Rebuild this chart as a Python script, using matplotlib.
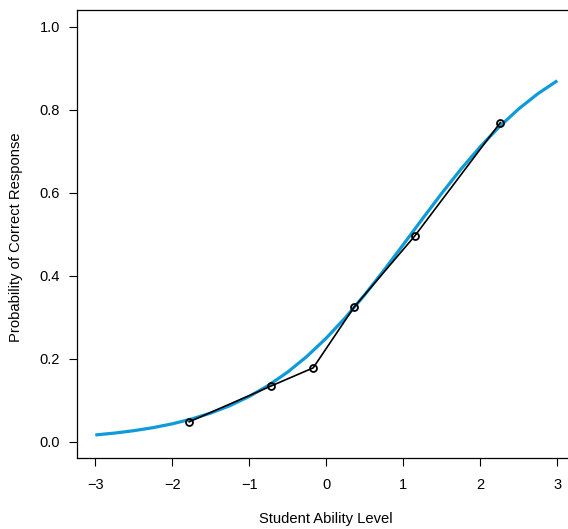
import matplotlib
matplotlib.use("Agg")
import matplotlib.pyplot as plt

plt.rcParams['font.family'] = ['Liberation Sans', 'DejaVu Sans']

# item characteristic curve, read at steps of 0.25 in ability
curve_x = [-3.0, -2.75, -2.5, -2.25, -2.0, -1.75, -1.5, -1.25, -1.0, -0.75, -0.5, -0.25,
           0.0, 0.25, 0.5, 0.75, 1.0, 1.25, 1.5, 1.75, 2.0, 2.25, 2.5, 2.75, 3.0]
curve_p = [0.0163, 0.0208, 0.0266, 0.0339, 0.0431, 0.0547, 0.0691, 0.0870, 0.1091,
           0.1359, 0.1680, 0.2059, 0.2497, 0.2994, 0.3543, 0.4134, 0.4750, 0.5374,
           0.5987, 0.6570, 0.7109, 0.7595, 0.8022, 0.8389, 0.8699]

# observed proportions correct per ability group
group_x = [-1.78, -0.72, -0.17, 0.36, 1.15, 2.26]
group_p = [0.048, 0.134, 0.178, 0.324, 0.496, 0.769]

x_ticks = [-3, -2, -1, 0, 1, 2, 3]
y_ticks = [0.0, 0.2, 0.4, 0.6, 0.8, 1.0]

fig = plt.figure(figsize=(5.68, 5.29), dpi=100)
ax = fig.add_axes([0.1352, 0.1336, 0.8785, 0.8473])

ax.plot(curve_x, curve_p, color='#0f9ad8', linewidth=2.3, solid_capstyle='butt')
ax.plot(group_x, group_p, color='black', linewidth=1.2, marker='o', markersize=5,
        markerfacecolor='none', markeredgewidth=1.3)

ax.set_xlim(-3.24, 3.24)
ax.set_ylim(-0.04, 1.04)
ax.set_xticks(x_ticks)
ax.set_xticklabels(['\u22123', '\u22122', '\u22121', '0', '1', '2', '3'])
ax.set_yticks(y_ticks)
ax.set_yticklabels(['%.1f' % v for v in y_ticks])

ax.tick_params(axis='both', direction='out', length=6, width=0.8, labelsize=10.5)
ax.tick_params(axis='x', pad=8)
ax.tick_params(axis='y', pad=6)
for s in ax.spines.values():
    s.set_linewidth(0.9)

fig.text(0.573, 0.019, 'Student Ability Level', ha='center', va='center', fontsize=10.6)
fig.text(0.029, 0.551, 'Probability of Correct Response', ha='center', va='center',
         rotation=90, fontsize=10.6)

fig.savefig('out.png', dpi=100)
